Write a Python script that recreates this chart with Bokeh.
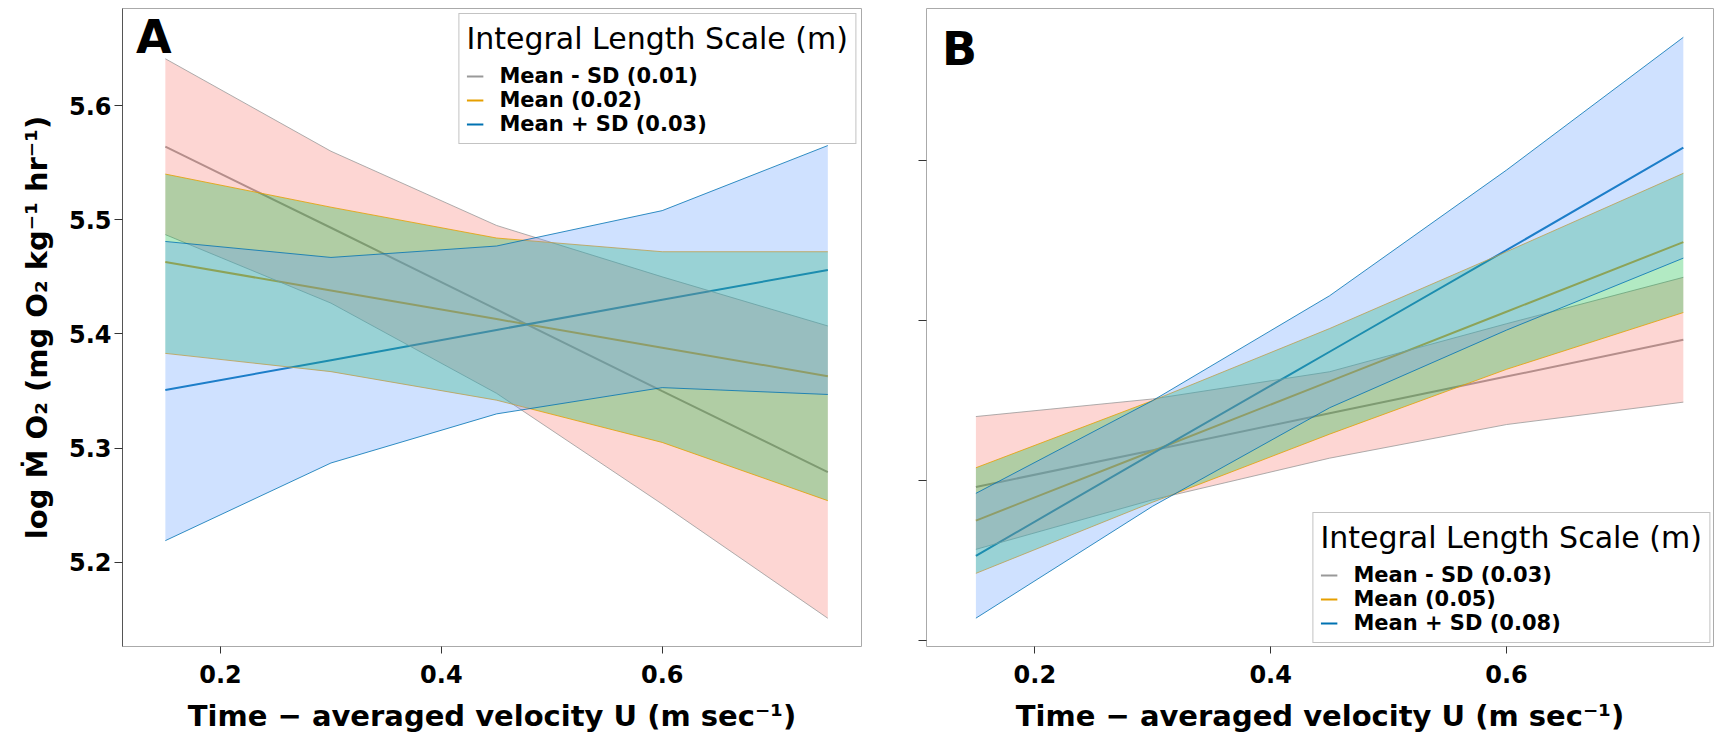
from bokeh.plotting import figure
from bokeh.layouts import row
from bokeh.models import Range1d, FixedTicker, Legend, LegendItem, Label, CustomJSTickFormatter
from bokeh.embed import file_html
from bokeh.resources import INLINE

# ---------------- data ----------------
velocity = [0.15, 0.30, 0.45, 0.60, 0.75]

legend_title = "Integral Length Scale (m)"
names_a = ["Mean - SD (0.01)", "Mean (0.02)", "Mean + SD (0.03)"]
names_b = ["Mean - SD (0.03)", "Mean (0.05)", "Mean + SD (0.08)"]

# Panel A
a_minus_mean = [5.564, 5.493, 5.4215, 5.350, 5.279]
a_minus_upper = [5.641, 5.560, 5.495, 5.450, 5.407]
a_minus_lower = [5.487, 5.427, 5.348, 5.251, 5.151]
a_mid_mean = [5.463, 5.438, 5.413, 5.388, 5.363]
a_mid_upper = [5.540, 5.511, 5.484, 5.472, 5.472]
a_mid_lower = [5.383, 5.367, 5.342, 5.305, 5.254]
a_plus_mean = [5.351, 5.377, 5.4035, 5.430, 5.456]
a_plus_upper = [5.481, 5.467, 5.477, 5.508, 5.565]
a_plus_lower = [5.219, 5.287, 5.330, 5.353, 5.347]

# Panel B
b_minus_mean = [5.296, 5.319, 5.342, 5.365, 5.388]
b_minus_upper = [5.340, 5.351, 5.368, 5.398, 5.427]
b_minus_lower = [5.257, 5.288, 5.314, 5.335, 5.349]
b_mid_mean = [5.275, 5.3185, 5.362, 5.4055, 5.449]
b_mid_upper = [5.308, 5.350, 5.395, 5.443, 5.492]
b_mid_lower = [5.242, 5.2865, 5.329, 5.3695, 5.405]
b_plus_mean = [5.253, 5.317, 5.3805, 5.444, 5.508]
b_plus_upper = [5.292, 5.350, 5.4155, 5.494, 5.577]
b_plus_lower = [5.214, 5.284, 5.3455, 5.394, 5.439]

x_ticks = [0.2, 0.4, 0.6]
a_y_ticks = [5.2, 5.3, 5.4, 5.5, 5.6]
b_y_ticks = [5.2, 5.3, 5.4, 5.5]

line_colors = ["#999999", "#E69F00", "#0072B2"]
fill_colors = ["#F8766D", "#00BA38", "#619CFF"]

FONT = "DejaVu Sans"
X_TITLE = "Time \u2212 averaged velocity U (m sec\u207b\u00b9)"
Y_TITLE = "log \u1e40 O\u2082 (mg O\u2082 kg\u207b\u00b9 hr\u207b\u00b9)"


def make_panel(width, xr, yr, yticks, border_left, border_right, series, names,
               legend_loc, letter, letter_xy, show_ylabels):
    p = figure(width=width, height=735, x_range=Range1d(*xr), y_range=Range1d(*yr),
               output_backend="svg", toolbar_location=None,
               min_border_left=border_left, min_border_right=border_right,
               min_border_top=8, min_border_bottom=89)
    p.grid.visible = False
    p.outline_line_color = "#aaaaaa"
    p.outline_line_width = 1
    p.background_fill_color = "white"
    p.border_fill_color = "white"

    xa = p.xaxis[0]
    xa.ticker = FixedTicker(ticks=x_ticks)
    xa.axis_label = X_TITLE
    ya = p.yaxis[0]
    ya.ticker = FixedTicker(ticks=yticks)
    ya.axis_label = Y_TITLE if show_ylabels else None
    if not show_ylabels:
        ya.formatter = CustomJSTickFormatter(code="return ''")
    for ax in (xa, ya):
        ax.axis_line_color = None
        ax.minor_tick_line_color = None
        ax.major_tick_in = 0
        ax.major_tick_line_color = "#333333"
        ax.major_label_text_font = FONT
        ax.major_label_text_font_style = "bold"
        ax.major_label_text_font_size = "24px"
        ax.major_label_text_color = "black"
        ax.axis_label_text_font = FONT
        ax.axis_label_text_font_style = "bold"
        ax.axis_label_text_font_size = "29px"
        ax.axis_label_text_color = "black"
    xa.major_tick_out = 7
    xa.major_label_standoff = 11
    xa.axis_label_standoff = 13
    ya.major_tick_out = 8
    ya.major_label_standoff = 3
    ya.axis_label_standoff = 12
    if show_ylabels:
        ya.axis_line_color = "#555555"

    mean_renderers = []
    for i, (mean, low, up) in enumerate(series):
        r = p.line(velocity, mean, line_color=line_colors[i], line_width=2)
        mean_renderers.append(r)
    for i, (mean, low, up) in enumerate(series):
        p.varea(x=velocity, y1=low, y2=up, fill_color=fill_colors[i], fill_alpha=0.3)
        p.line(velocity, up, line_color=line_colors[i], line_width=0.8)
        p.line(velocity, low, line_color=line_colors[i], line_width=0.8)

    legend = Legend(items=[LegendItem(label=n, renderers=[r]) for n, r in zip(names, mean_renderers)],
                    location=legend_loc, margin=5, title=legend_title)
    legend.title_text_font = FONT
    legend.title_text_font_size = "30px"
    legend.title_text_font_style = "normal"
    legend.title_text_color = "black"
    legend.title_standoff = 8
    legend.label_text_font = FONT
    legend.label_text_font_size = "21px"
    legend.label_text_font_style = "bold"
    legend.label_text_color = "black"
    legend.label_height = 22
    legend.glyph_height = 22
    legend.glyph_width = 17
    legend.label_standoff = 16
    legend.spacing = 0
    legend.padding = 7
    legend.border_line_color = "#888888"
    legend.border_line_width = 1
    legend.background_fill_alpha = 1.0
    p.add_layout(legend)

    p.add_layout(Label(x=letter_xy[0], y=letter_xy[1], text=letter, text_font=FONT,
                       text_font_size="46px", text_font_style="bold", text_color="black",
                       text_baseline="alphabetic", text_align="left"))
    return p


series_a = [(a_minus_mean, a_minus_lower, a_minus_upper),
            (a_mid_mean, a_mid_lower, a_mid_upper),
            (a_plus_mean, a_plus_lower, a_plus_upper)]
series_b = [(b_minus_mean, b_minus_lower, b_minus_upper),
            (b_mid_mean, b_mid_lower, b_mid_upper),
            (b_plus_mean, b_plus_lower, b_plus_upper)]

pa = make_panel(866, (0.1112, 0.7805), (5.1263, 5.685), a_y_ticks, 122, 5, series_a, names_a,
                "top_right", "A", (0.1235, 5.6604), True)
pb = make_panel(850, (0.1081, 0.7756), (5.1963, 5.595), b_y_ticks, 60, 3, series_b, names_b,
                "bottom_right", "B", (0.1213, 5.5699), False)
pb.legend[0].margin = 3

layout = row(pa, pb, spacing=0)
open("out.html", "w").write(file_html(layout, INLINE))
